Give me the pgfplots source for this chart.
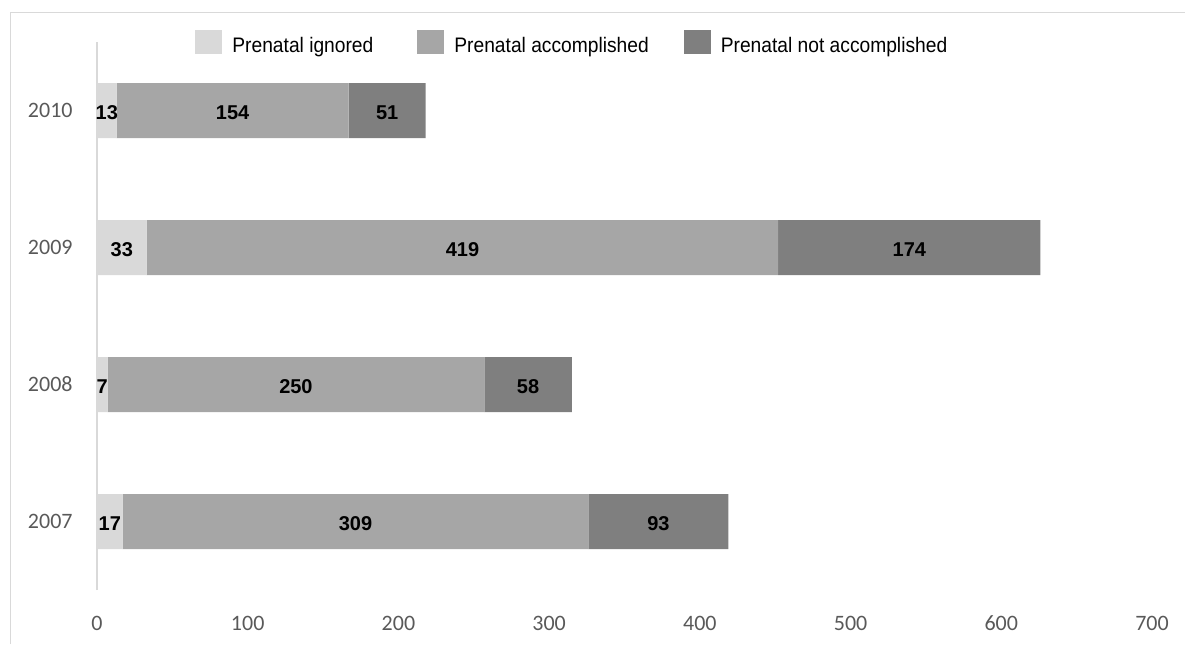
\documentclass[border=0pt]{standalone}
\usepackage{pgfplots}
\pgfplotsset{compat=1.18}
\usepackage{pgfplotstable}
\usepackage{fontspec}
\setmainfont{Liberation Sans}
\newfontfamily\legfont[FakeStretch=0.915]{Liberation Sans}
\newfontfamily\carlito{Carlito}
\definecolor{cign}{HTML}{D9D9D9}
\definecolor{cacc}{HTML}{A6A6A6}
\definecolor{cnacc}{HTML}{7F7F7F}
\definecolor{tickgray}{HTML}{595959}
\definecolor{framegray}{HTML}{D9D9D9}
\pgfplotstableread{
pos year ign acc nacc
1 2007 17 309 93
2 2008 7 250 58
3 2009 33 419 174
4 2010 13 154 51
}\datatable
\begin{document}
\begin{tikzpicture}
\useasboundingbox (0,0) rectangle (592.5pt,-322pt);
\draw[framegray, line width=0.75pt] (5.25pt,-322pt) -- (5.25pt,-6.25pt) -- (592.5pt,-6.25pt);
\begin{axis}[
  at={(48.5pt,-295pt)}, anchor=south west,
  scale only axis, width=527.5pt, height=274pt,
  xbar stacked, bar width=27.5pt,
  xmin=0, xmax=700, ymin=0.5, ymax=4.5,
  xtick={0,100,...,700},
  ytick={1,2,3,4}, yticklabels={2007,2008,2009,2010},
  major tick length=0pt,
  axis lines*=left,
  x axis line style={draw=none},
  y axis line style={draw=framegray, line width=0.75pt, -},
  /pgf/number format/assume math mode=true,
  xticklabel style={font=\carlito\fontsize{11}{13}\selectfont, text=tickgray, anchor=center, yshift=-16.5pt},
  yticklabel style={font=\carlito\fontsize{11}{13}\selectfont, text=tickgray, anchor=east, inner sep=0pt, xshift=-12pt},
  legend columns=3,
  legend cell align=left,
  legend image code/.code={\path (0pt,10pt); \fill[#1] (0pt,-4pt) rectangle (13.5pt,8pt);},
  legend style={at={(0.0929,1.0023)}, anchor=west, draw=none, fill=none,
    font=\legfont\fontsize{10.5}{12}\selectfont, inner sep=0pt, nodes={inner sep=0pt},
    /tikz/every odd column/.append style={column sep=5pt},
    /tikz/column 2/.append style={column sep=22pt},
    /tikz/column 4/.append style={column sep=17.5pt}},
]
\addplot[fill=cign, draw=none] table[x=ign, y=pos] \datatable;
\addplot[fill=cacc, draw=none] table[x=acc, y=pos] \datatable;
\addplot[fill=cnacc, draw=none] table[x=nacc, y=pos] \datatable;
\legend{Prenatal ignored, Prenatal accomplished, Prenatal not accomplished}
\end{axis}
\begin{axis}[
  at={(48.5pt,-295pt)}, anchor=south west,
  scale only axis, width=527.5pt, height=274pt,
  xmin=0, xmax=700, ymin=0.5, ymax=4.5,
  hide axis,
  nodes near coords style={anchor=center, yshift=-1.2pt, font=\bfseries\fontsize{10}{12}\selectfont, text=black},
]
\addplot[draw=none, mark=none, nodes near coords, point meta=explicit symbolic]
  table[x expr=\thisrow{ign}/2, y=pos, meta=ign] \datatable;
\addplot[draw=none, mark=none, nodes near coords, point meta=explicit symbolic]
  table[x expr=\thisrow{ign}+\thisrow{acc}/2, y=pos, meta=acc] \datatable;
\addplot[draw=none, mark=none, nodes near coords, point meta=explicit symbolic]
  table[x expr=\thisrow{ign}+\thisrow{acc}+\thisrow{nacc}/2, y=pos, meta=nacc] \datatable;
\end{axis}
\end{tikzpicture}
\end{document}
